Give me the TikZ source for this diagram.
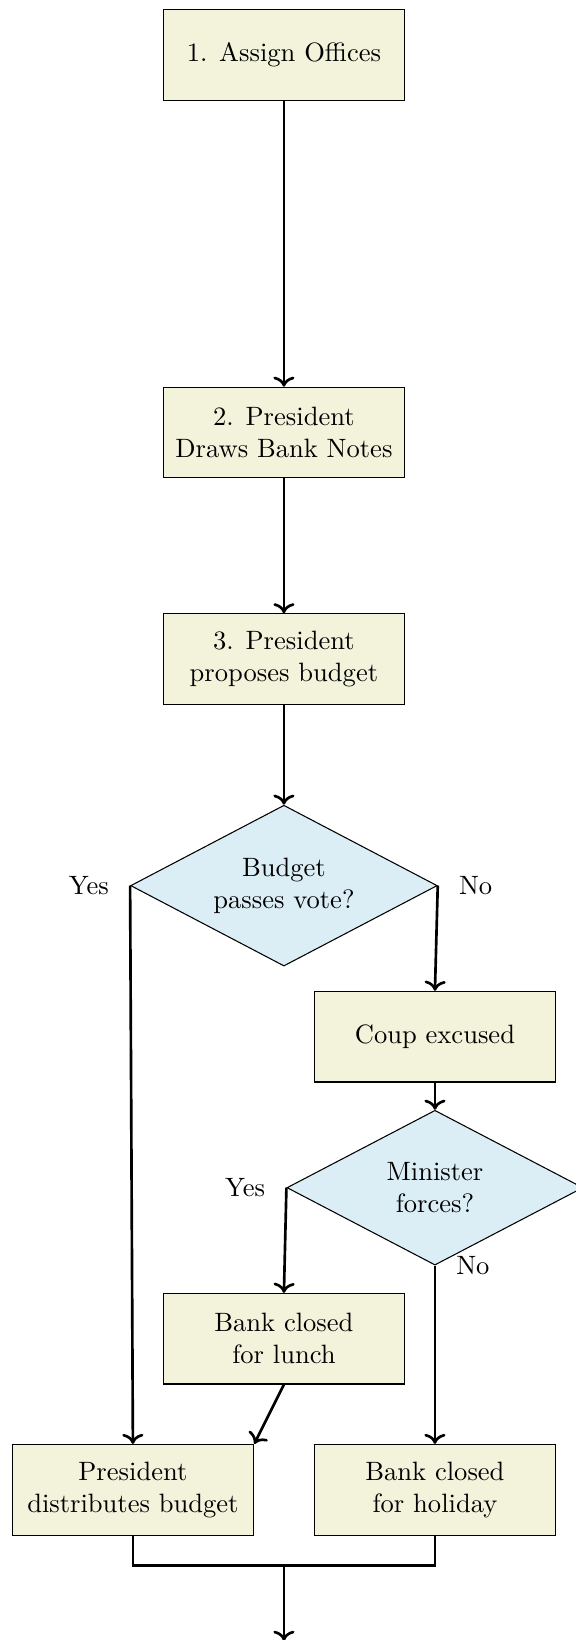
\documentclass[tikz,border=0pt]{standalone}
\usepackage[HTML]{xcolor}
\usepackage{tikz}
\usetikzlibrary{positioning, arrows.meta, shapes.geometric}

\definecolor{boxfill}{HTML}{F3F3DC}
\definecolor{askfill}{HTML}{DCEEF5}

\begin{document}
\begin{tikzpicture}[>=To, node distance=2cm, on grid, % Setting global styles
    stepbox/.style={rectangle, draw, thin, fill=boxfill, align=center,
        minimum width=3.2cm, minimum height=1.2cm},
    decision/.style={diamond, aspect=2, draw, thin, fill=askfill, align=center, inner sep=0pt},
    flow/.style={->, line width=1pt},
    joinline/.style={line width=1pt}]

    \useasboundingbox (-3.76,0.728) rectangle (3.856,-20.99);

    % 1. Define Nodes: the main column, then the branches
    \node[stepbox] (assign) at (0, 0) {1. Assign Offices};
    \node[stepbox] (draws) [below=5cm of assign] {2. President\\Draws Bank Notes};
    \node[stepbox] (propose) [below=3cm of draws] {3. President\\proposes budget};
    \node[decision, minimum width=4.06cm, minimum height=2.13cm] (vote) [below=3cm of propose] {Budget\\passes vote?};
    \node[stepbox] (coup) [below right=2cm and 2cm of vote] {Coup excused};
    \node[decision, minimum width=3.92cm, minimum height=2.05cm] (forces) [below=of coup] {Minister\\forces?};
    \node[stepbox] (lunch) [below left=2cm and 2cm of forces] {Bank closed\\for lunch};
    \node[stepbox] (distrib) [below left=2cm and 2cm of lunch] {President\\distributes budget};
    \node[stepbox] (holiday) [below right=2cm and 2cm of lunch] {Bank closed\\for holiday};
    \node[coordinate, below=3cm of lunch] (merge) {}; % joining point of both ends
    \node[coordinate, below=1cm of merge] (next) {};

    % 2. Answer labels beside the corners
    \node (yes1) [left=4.5pt of vote.west, anchor=east] {Yes};
    \node (no1) [right=4.5pt of vote.east, anchor=west] {No};
    \node (yes2) [left=4.5pt of forces.west, anchor=east] {Yes};
    \node (no2) [right=4.5pt of forces.south, anchor=west] {No};

    % 3. Draw the main sequence
    \draw[flow] (assign) -- (draws);
    \draw[flow] (draws) -- (propose);
    \draw[flow] (propose) -- (vote);

    % 4. Draw the branches out of the two questions
    \draw[flow] (vote.west) -- (distrib.north);
    \draw[flow] (vote.east) -- (coup.north);
    \draw[flow] (coup) -- (forces);
    \draw[flow] (forces.west) -- (lunch.north);
    \draw[flow] (forces.south) -- (holiday.north);
    \draw[flow] (lunch.south) -- (distrib.north east);

    % 5. Join both ends and leave downwards
    \draw[joinline] (distrib.south) |- (merge) -| (holiday.south);
    \draw[flow] (merge) -- (next);
\end{tikzpicture}
\end{document}
